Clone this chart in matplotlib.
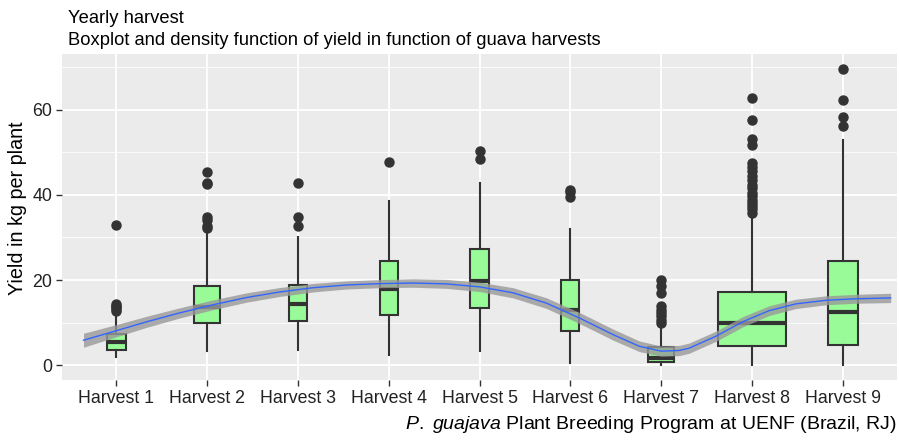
import matplotlib
matplotlib.use("Agg")
import matplotlib.pyplot as plt
import numpy as np

# values
harvests = ['Harvest 1', 'Harvest 2', 'Harvest 3', 'Harvest 4', 'Harvest 5',
            'Harvest 6', 'Harvest 7', 'Harvest 8', 'Harvest 9']
q1 = [3.5, 10.0, 10.3, 11.7, 13.45, 8.1, 0.7, 4.45, 4.7]
median = [5.5, 13.6, 14.4, 17.9, 19.7, 13.06, 1.65, 9.94, 12.5]
q3 = [7.35, 18.7, 18.85, 24.5, 27.3, 19.9, 4.3, 17.1, 24.55]
whisker_low = [2.0, 3.4, 3.6, 2.5, 3.3, 0.55, 0.15, 0.16, 0.16]
whisker_high = [12.3, 31.4, 30.0, 38.6, 42.9, 32.0, 9.5, 35.3, 52.8]
outliers = [
    [12.8, 13.2, 13.6, 14.0, 14.4, 32.9],
    [32.2, 32.7, 34.2, 34.7, 42.5, 42.9, 45.3],
    [32.6, 34.7, 42.7],
    [47.8],
    [48.4, 50.3],
    [39.5, 40.6, 41.2],
    [9.9, 10.7, 11.5, 12.3, 13.06, 13.8, 17.0, 18.7, 20.1],
    [35.8, 36.6, 37.4, 38.1, 38.9, 39.7, 40.5, 41.6, 42.4, 43.6, 44.5, 45.5,
     46.5, 47.6, 51.7, 53.1, 57.5, 62.8],
    [56.1, 58.2, 62.4, 69.6],
]
# varwidth box widths (relative to sample size)
box_width = [0.217, 0.29, 0.201, 0.2, 0.201, 0.198, 0.278, 0.75, 0.33]

# smoothed trend with its confidence band
curve_x = [0.637, 0.967, 1.334, 1.70, 2.067, 2.434, 2.80, 3.167, 3.535, 3.90,
           4.267, 4.634, 5.0, 5.37, 5.735, 6.10, 6.47, 6.76, 7.0, 7.2, 7.31,
           7.605, 7.90, 8.19, 8.485, 8.82, 9.15, 9.53]
curve_y = [5.86, 7.9, 10.2, 12.3, 14.2, 15.9, 17.2, 18.2, 18.85, 19.15,
           19.3, 19.1, 18.4, 17.0, 14.6, 11.1, 7.2, 4.45, 3.3, 3.45, 4.0,
           6.8, 10.2, 12.8, 14.4, 15.25, 15.6, 15.8]
curve_se = [1.65, 1.45, 1.3, 1.2, 1.15, 1.1, 1.05, 1.0, 0.95, 0.95,
            1.0, 1.05, 1.1, 1.2, 1.25, 1.3, 1.3, 1.25, 1.2, 1.2, 1.2,
            1.2, 1.2, 1.15, 1.1, 1.05, 1.05, 1.1]

plt.rcParams['font.family'] = ['Liberation Sans', 'DejaVu Sans']
plt.rcParams['mathtext.fontset'] = 'custom'
plt.rcParams['mathtext.rm'] = 'Liberation Sans'
plt.rcParams['mathtext.it'] = 'Liberation Sans:italic'

fig = plt.figure(figsize=(8.99, 4.40), dpi=100)
ax = fig.add_axes([62/899, 1 - 380/440, 835/899, 326/440])
ax.set_facecolor('#EBEBEB')
for s in ax.spines.values():
    s.set_visible(False)

positions = np.arange(1, len(harvests) + 1)
stats = []
for i in range(len(harvests)):
    stats.append({'med': median[i], 'q1': q1[i], 'q3': q3[i],
                  'whislo': whisker_low[i], 'whishi': whisker_high[i],
                  'fliers': outliers[i]})

ax.bxp(stats, positions=positions, widths=box_width, patch_artist=True,
       showcaps=False,
       boxprops=dict(facecolor='#98FB98', edgecolor='#333333', linewidth=1.5),
       medianprops=dict(color='#333333', linewidth=3),
       whiskerprops=dict(color='#333333', linewidth=1.5),
       flierprops=dict(marker='o', markerfacecolor='#333333',
                       markeredgecolor='#333333', markersize=6.5),
       zorder=3)

cx = np.array(curve_x)
cy = np.array(curve_y)
se = np.array(curve_se)
ax.fill_between(cx, cy - se, cy + se, color='#999999', alpha=0.8,
                linewidth=0, zorder=4)
ax.plot(cx, cy, color='#3366FF', linewidth=1, zorder=5)

ax.set_xlim(0.4, 9.6)
ax.set_ylim(-3.48, 73.1)
ax.set_xticks(positions)
ax.set_xticklabels(harvests)
ax.set_yticks([0, 20, 40, 60])
ax.set_yticks([10, 30, 50, 70], minor=True)
ax.grid(True, which='major', color='white', linewidth=1.3, zorder=0)
ax.grid(True, which='minor', axis='y', color='white', linewidth=0.6, zorder=0)
ax.set_axisbelow(True)
ax.tick_params(axis='both', which='major', length=4, width=1, color='#333333',
               labelsize=12.8, labelcolor='#222222', pad=3)
ax.tick_params(axis='y', which='minor', length=0)

ax.set_ylabel('Yield in kg per plant', fontsize=14.2, color='black')
ax.yaxis.set_label_coords(-0.042, 0.528)
ax.set_xlabel(r'$\mathit{P.\ guajava}$ Plant Breeding Program at UENF (Brazil, RJ)',
              fontsize=14, loc='right', labelpad=5)

fig.text(68/899, 1 - 22.7/440, 'Yearly harvest', fontsize=13.2, va='baseline')
fig.text(68/899, 1 - 45/440,
         'Boxplot and density function of yield in function of guava harvests',
         fontsize=13.2, va='baseline')

fig.savefig('out.png', dpi=100)
